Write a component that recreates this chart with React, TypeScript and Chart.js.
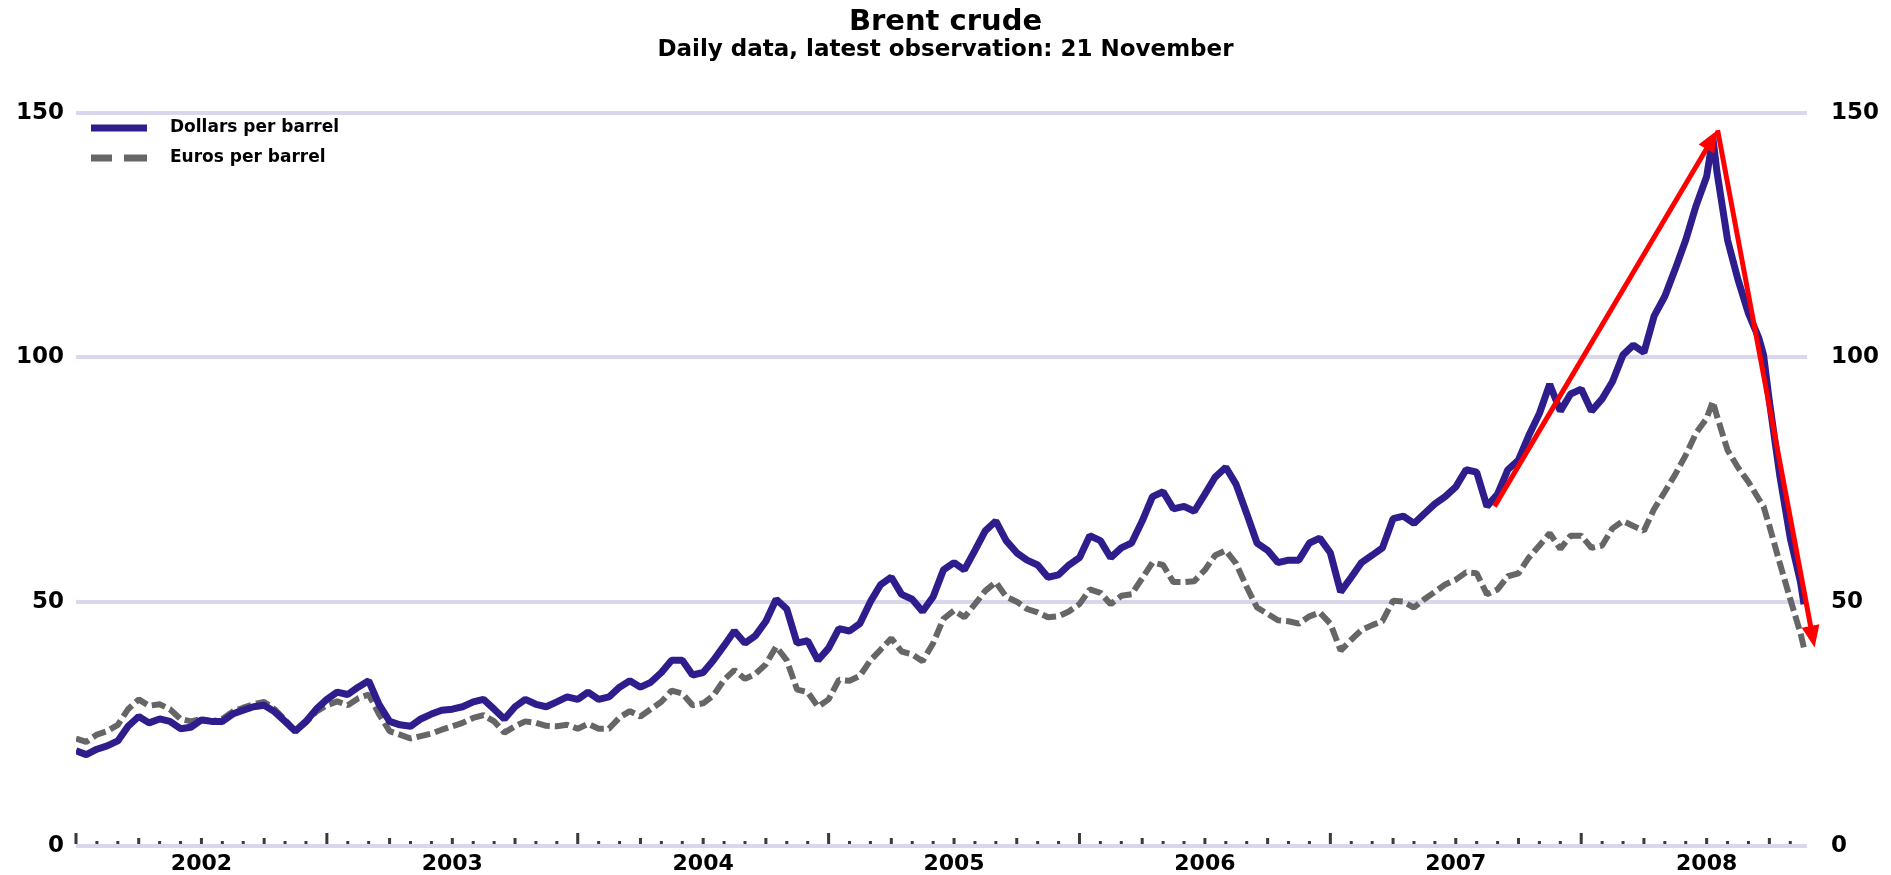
import React, { useEffect, useRef } from 'react';
import { Chart, registerables } from 'chart.js';

Chart.register(...registerables);

const titleText = 'Brent crude';
const subtitleText = 'Daily data, latest observation: 21 November';
const seriesNames = ['Dollars per barrel', 'Euros per barrel'];
const yearLabels = ['2002', '2003', '2004', '2005', '2006', '2007', '2008'];
const yTicks = [0, 50, 100, 150];

const dates = [
  '2002-01-01', '2002-01-16', '2002-02-01', '2002-02-16', '2002-03-01', '2002-03-16', '2002-04-01', '2002-04-16',
  '2002-05-01', '2002-05-16', '2002-06-01', '2002-06-16', '2002-07-01', '2002-07-16', '2002-08-01', '2002-08-16',
  '2002-09-01', '2002-09-16', '2002-10-01', '2002-10-16', '2002-11-01', '2002-11-16', '2002-12-01', '2002-12-16',
  '2003-01-01', '2003-01-16', '2003-02-01', '2003-02-16', '2003-03-01', '2003-03-16', '2003-04-01', '2003-04-16',
  '2003-05-01', '2003-05-16', '2003-06-01', '2003-06-16', '2003-07-01', '2003-07-16', '2003-08-01', '2003-08-16',
  '2003-09-01', '2003-09-16', '2003-10-01', '2003-10-16', '2003-11-01', '2003-11-16', '2003-12-01', '2003-12-16',
  '2004-01-01', '2004-01-16', '2004-02-01', '2004-02-16', '2004-03-01', '2004-03-16', '2004-04-01', '2004-04-16',
  '2004-05-01', '2004-05-16', '2004-06-01', '2004-06-16', '2004-07-01', '2004-07-16', '2004-08-01', '2004-08-16',
  '2004-09-01', '2004-09-16', '2004-10-01', '2004-10-16', '2004-11-01', '2004-11-16', '2004-12-01', '2004-12-16',
  '2005-01-01', '2005-01-16', '2005-02-01', '2005-02-16', '2005-03-01', '2005-03-16', '2005-04-01', '2005-04-16',
  '2005-05-01', '2005-05-16', '2005-06-01', '2005-06-16', '2005-07-01', '2005-07-16', '2005-08-01', '2005-08-16',
  '2005-09-01', '2005-09-16', '2005-10-01', '2005-10-16', '2005-11-01', '2005-11-16', '2005-12-01', '2005-12-16',
  '2006-01-01', '2006-01-16', '2006-02-01', '2006-02-16', '2006-03-01', '2006-03-16', '2006-04-01', '2006-04-16',
  '2006-05-01', '2006-05-16', '2006-06-01', '2006-06-16', '2006-07-01', '2006-07-16', '2006-08-01', '2006-08-16',
  '2006-09-01', '2006-09-16', '2006-10-01', '2006-10-16', '2006-11-01', '2006-11-16', '2006-12-01', '2006-12-16',
  '2007-01-01', '2007-01-16', '2007-02-01', '2007-02-16', '2007-03-01', '2007-03-16', '2007-04-01', '2007-04-16',
  '2007-05-01', '2007-05-16', '2007-06-01', '2007-06-16', '2007-07-01', '2007-07-16', '2007-08-01', '2007-08-16',
  '2007-09-01', '2007-09-16', '2007-10-01', '2007-10-16', '2007-11-01', '2007-11-16', '2007-12-01', '2007-12-16',
  '2008-01-01', '2008-01-16', '2008-02-01', '2008-02-16', '2008-03-01', '2008-03-16', '2008-04-01', '2008-04-16',
  '2008-05-01', '2008-05-16', '2008-06-01', '2008-06-16', '2008-07-01', '2008-07-10', '2008-07-16', '2008-08-01',
  '2008-08-16', '2008-09-01', '2008-09-16', '2008-09-23', '2008-10-01', '2008-10-16', '2008-11-01', '2008-11-16',
  '2008-11-21',
];

const dollars = [
  19.5, 18.7, 19.8, 20.5, 21.5, 24.5, 26.5, 25.2, 26.0, 25.5, 24.0, 24.3,
  25.8, 25.5, 25.5, 27.0, 27.8, 28.5, 28.8, 27.5, 25.5, 23.5, 25.5, 28.0,
  30.0, 31.5, 31.0, 32.5, 33.8, 29.0, 25.5, 24.8, 24.5, 26.0, 27.0, 27.8,
  28.0, 28.5, 29.5, 30.0, 28.0, 26.0, 28.5, 30.0, 29.0, 28.5, 29.5, 30.5,
  30.0, 31.5, 30.0, 30.5, 32.5, 33.8, 32.5, 33.5, 35.5, 38.0, 38.0, 35.0,
  35.5, 38.0, 41.0, 44.0, 41.5, 43.0, 46.0, 50.5, 48.5, 41.5, 42.0, 38.0,
  40.5, 44.5, 44.0, 45.5, 50.0, 53.5, 55.0, 51.5, 50.5, 48.0, 51.0, 56.5,
  58.0, 56.5, 60.5, 64.5, 66.5, 62.5, 60.0, 58.5, 57.5, 55.0, 55.5, 57.5,
  59.0, 63.5, 62.5, 59.0, 61.0, 62.0, 66.5, 71.5, 72.5, 69.0, 69.5, 68.5,
  72.0, 75.5, 77.5, 74.0, 68.0, 62.0, 60.5, 58.0, 58.5, 58.5, 62.0, 63.0,
  60.0, 52.0, 55.0, 58.0, 59.5, 61.0, 67.0, 67.5, 66.0, 68.0, 70.0, 71.5,
  73.5, 77.0, 76.5, 69.5, 72.0, 77.0, 79.0, 84.0, 88.5, 94.5, 89.0, 92.5,
  93.5, 89.0, 91.5, 95.0, 100.5, 102.5, 101.0, 108.5, 112.5, 118.0, 124.0, 131.0,
  137.0, 145.0, 138.0, 124.0, 116.0, 109.0, 104.0, 100.5, 91.0, 76.0, 63.0, 54.0,
  49.5,
];

const euros = [
  22.0, 21.3, 22.8, 23.5, 24.8, 28.0, 30.0, 28.7, 29.0, 28.0, 26.0, 25.5,
  26.0, 25.5, 26.0, 27.5, 28.3, 29.0, 29.5, 28.0, 25.8, 23.5, 25.3, 27.5,
  28.8, 29.6, 28.8, 30.2, 31.0, 27.0, 23.5, 22.8, 22.0, 22.5, 23.0, 23.8,
  24.5, 25.2, 26.2, 26.8, 25.5, 23.2, 24.5, 25.5, 25.2, 24.6, 24.5, 24.8,
  24.0, 25.0, 24.0, 24.0, 26.3, 27.6, 26.5, 28.0, 29.5, 31.8, 31.2, 28.8,
  29.2, 30.8, 34.0, 36.0, 34.2, 35.2, 37.2, 40.8, 38.0, 32.0, 31.5, 28.5,
  30.0, 34.0, 33.8, 34.8, 38.0, 40.2, 42.5, 39.8, 39.2, 37.8, 41.5, 46.5,
  48.2, 46.8, 49.5, 52.2, 54.0, 51.0, 50.0, 48.5, 47.8, 46.8, 47.0, 48.0,
  49.5, 52.5, 51.8, 49.5, 51.2, 51.5, 54.8, 58.0, 57.5, 54.0, 54.0, 54.2,
  56.5, 59.5, 60.5, 57.8, 53.0, 48.8, 47.5, 46.2, 46.0, 45.5, 47.0, 47.8,
  45.5, 40.0, 42.2, 44.2, 45.2, 46.0, 50.2, 50.0, 48.8, 50.5, 52.0, 53.5,
  54.5, 56.0, 55.8, 51.5, 52.5, 55.2, 55.8, 59.0, 61.5, 64.0, 60.8, 63.5,
  63.5, 61.0, 61.5, 65.0, 66.5, 65.5, 64.5, 69.0, 72.5, 76.0, 80.0, 84.5,
  87.5, 91.0, 88.0, 81.0, 77.5, 74.5, 71.0, 69.5, 65.5, 58.0, 50.5, 43.5,
  40.5,
];

// Red annotation arrows drawn on the original chart
const arrowDates = ['2007-08-27', '2008-07-17', '2008-12-06'];
const arrowValues = [69.5, 146.5, 40.6];

const X_MIN = 2002.0;
const X_MAX = 2008.9;

function toYear(s: string): number {
  const [y, m, d] = s.split('-').map(Number);
  return y + (m - 1) / 12 + (d - 1) / (30.5 * 12);
}

const COLOR_USD = '#2e1d8c';
const COLOR_EUR = '#666666';
const GRID = '#dad6ec';
const FONT = '"DejaVu Sans", "Liberation Sans", Arial, sans-serif';

const textPlugin = {
  id: 'texts',
  afterDraw(chart: any) {
    const { ctx, width } = chart;
    ctx.save();
    ctx.fillStyle = '#000';
    ctx.textAlign = 'center';
    ctx.textBaseline = 'middle';
    ctx.font = `bold 29px ${FONT}`;
    ctx.fillText(titleText, width / 2, 22);
    ctx.font = `bold 23px ${FONT}`;
    ctx.fillText(subtitleText, width / 2, 50);

    // legend
    const lx0 = 91, lx1 = 147, tx = 170;
    const ly = [128, 158];
    ctx.lineWidth = 7;
    ctx.strokeStyle = COLOR_USD;
    ctx.beginPath();
    ctx.moveTo(lx0, ly[0]);
    ctx.lineTo(lx1, ly[0]);
    ctx.stroke();
    ctx.strokeStyle = COLOR_EUR;
    ctx.beginPath();
    ctx.moveTo(lx0, ly[1]);
    ctx.lineTo(lx0 + 21, ly[1]);
    ctx.moveTo(lx0 + 33, ly[1]);
    ctx.lineTo(lx1, ly[1]);
    ctx.stroke();
    ctx.textAlign = 'left';
    ctx.font = `bold 17px ${FONT}`;
    ctx.fillStyle = '#000';
    ctx.fillText(seriesNames[0], tx, ly[0]);
    ctx.fillText(seriesNames[1], tx, ly[1]);
    ctx.restore();
  },
};

const tickPlugin = {
  id: 'monthTicks',
  afterDatasetsDraw(chart: any) {
    const { ctx, scales } = chart;
    const x = scales.x;
    const y0 = scales.y.getPixelForValue(0);
    ctx.save();
    ctx.fillStyle = '#3a3a3a';
    for (let m = 0; ; m++) {
      const v = X_MIN + m / 12;
      if (v > X_MAX + 1e-6) break;
      const px = x.getPixelForValue(v);
      let h = 3;
      if (m % 12 === 0) h = 11;
      else if (m % 3 === 0) h = 6;
      ctx.fillRect(px - 1.5, y0 - 2 - h, 3, h);
    }
    ctx.restore();
  },
};

function drawArrow(ctx: any, ax: number, ay: number, bx: number, by: number) {
  const ang = Math.atan2(by - ay, bx - ax);
  const head = 22;
  const half = 9;
  const ex = bx - Math.cos(ang) * head * 0.8;
  const ey = by - Math.sin(ang) * head * 0.8;
  ctx.beginPath();
  ctx.moveTo(ax, ay);
  ctx.lineTo(ex, ey);
  ctx.stroke();
  const baseX = bx - Math.cos(ang) * head;
  const baseY = by - Math.sin(ang) * head;
  ctx.beginPath();
  ctx.moveTo(bx, by);
  ctx.lineTo(baseX + Math.sin(ang) * half, baseY - Math.cos(ang) * half);
  ctx.lineTo(baseX - Math.sin(ang) * half, baseY + Math.cos(ang) * half);
  ctx.closePath();
  ctx.fill();
}

const arrowPlugin = {
  id: 'redArrows',
  afterDatasetsDraw(chart: any) {
    const { ctx, scales } = chart;
    const pts = arrowDates.map((d, i) => [
      scales.x.getPixelForValue(toYear(d)),
      scales.y.getPixelForValue(arrowValues[i]),
    ]);
    ctx.save();
    ctx.strokeStyle = '#ff0000';
    ctx.fillStyle = '#ff0000';
    ctx.lineWidth = 5;
    for (let i = 0; i < pts.length - 1; i++) {
      drawArrow(ctx, pts[i][0], pts[i][1], pts[i + 1][0], pts[i + 1][1]);
    }
    ctx.restore();
  },
};

function fixVertical(width: number) {
  return (scale: any) => {
    scale.width = width;
    scale.paddingTop = 0;
    scale.paddingBottom = 0;
  };
}

export default function App() {
  const ref = useRef<HTMLCanvasElement | null>(null);

  useEffect(() => {
    if (!ref.current) return;
    const xs = dates.map(toYear);
    const chart = new Chart(ref.current, {
      type: 'line',
      data: {
        datasets: [
          {
            label: seriesNames[0],
            data: xs.map((x, i) => ({ x, y: dollars[i] })),
            borderColor: COLOR_USD,
            borderWidth: 7,
            borderJoinStyle: 'bevel',
            pointRadius: 0,
            tension: 0,
            yAxisID: 'y',
          },
          {
            label: seriesNames[1],
            data: xs.map((x, i) => ({ x, y: euros[i] })),
            borderColor: COLOR_EUR,
            borderWidth: 6,
            borderDash: [14, 5],
            borderJoinStyle: 'bevel',
            pointRadius: 0,
            tension: 0,
            yAxisID: 'y',
          },
        ],
      },
      options: {
        animation: false,
        responsive: true,
        maintainAspectRatio: false,
        layout: { padding: { top: 113, left: 0, right: 0, bottom: 0 } },
        plugins: {
          legend: { display: false },
          title: { display: false },
          tooltip: { enabled: false },
        },
        scales: {
          x: {
            type: 'linear',
            min: X_MIN,
            max: X_MAX,
            grid: { display: false, drawTicks: false },
            border: { display: false },
            afterBuildTicks: (scale: any) => {
              scale.ticks = yearLabels.map((_, i) => ({ value: 2002.5 + i }));
            },
            afterFit: (scale: any) => {
              scale.height = 29;
              scale.paddingLeft = 0;
              scale.paddingRight = 0;
            },
            ticks: {
              autoSkip: false,
              maxRotation: 0,
              padding: 5,
              color: '#000',
              font: { family: FONT, size: 22, weight: 'bold' },
              callback: (v: any) => yearLabels[Math.round(Number(v) - 2002.5)] ?? '',
            },
          },
          y: {
            type: 'linear',
            position: 'left',
            min: 0,
            max: 150,
            afterBuildTicks: (scale: any) => {
              scale.ticks = yTicks.map((v) => ({ value: v }));
            },
            afterFit: fixVertical(76),
            grid: { color: GRID, lineWidth: 4, drawTicks: false },
            border: { display: false },
            ticks: {
              padding: 12,
              color: '#000',
              font: { family: FONT, size: 23, weight: 'bold' },
            },
          },
          y2: {
            type: 'linear',
            position: 'right',
            min: 0,
            max: 150,
            afterBuildTicks: (scale: any) => {
              scale.ticks = yTicks.map((v) => ({ value: v }));
            },
            afterFit: fixVertical(84),
            grid: { display: false, drawTicks: false },
            border: { display: false },
            ticks: {
              padding: 24,
              color: '#000',
              font: { family: FONT, size: 23, weight: 'bold' },
            },
          },
        },
      },
      plugins: [tickPlugin, arrowPlugin, textPlugin],
    } as any);
    return () => chart.destroy();
  }, []);

  return (
    <div style={{ position: 'fixed', left: 0, top: 0, width: '1891px', height: '875px', background: '#fff' }}>
      <canvas ref={ref} />
    </div>
  );
}
